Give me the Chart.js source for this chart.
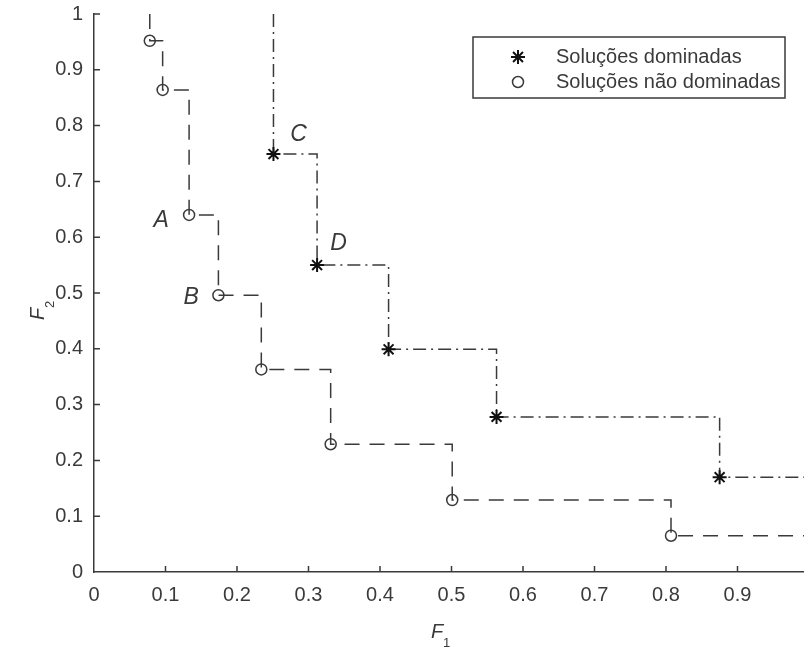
<!DOCTYPE html>
<html>
<head>
<meta charset="utf-8">
<script src="https://cdn.jsdelivr.net/npm/chart.js@4.4.0/dist/chart.umd.min.js"></script>
<style>
  html, body { margin: 0; padding: 0; background: #fff; overflow: hidden; }
  #chartBox { position: absolute; left: 0; top: 0; width: 820px; height: 649px; }
</style>
</head>
<body>
<div id="chartBox"><canvas id="paretoChart" width="820" height="649"></canvas></div>
<script>
// values (F1, F2)
const naoDominadasF1 = [0.078, 0.096, 0.133, 0.174, 0.234, 0.331, 0.501, 0.807];
const naoDominadasF2 = [0.952, 0.864, 0.640, 0.496, 0.363, 0.229, 0.129, 0.065];
const dominadasF1 = [0.251, 0.312, 0.412, 0.563, 0.875];
const dominadasF2 = [0.749, 0.550, 0.399, 0.278, 0.170];

const tickValues = [0, 0.1, 0.2, 0.3, 0.4, 0.5, 0.6, 0.7, 0.8, 0.9, 1];
const tickLabels = ['0', '0.1', '0.2', '0.3', '0.4', '0.5', '0.6', '0.7', '0.8', '0.9', '1'];

const pointLabels = ['A', 'B', 'C', 'D'];
const pointLabelF1 = [0.094, 0.136, 0.286, 0.342];
const pointLabelF2 = [0.630, 0.491, 0.784, 0.588];

const legendLabels = ['Soluções dominadas', 'Soluções não dominadas'];

const F1_MAX = 1;
const F2_MAX = 1;
const FONT = "'Liberation Sans', Arial, sans-serif";
const INK = '#3a3a3a';

const toPoints = (xs, ys) => xs.map((x, i) => ({ x: x, y: ys[i] }));

// staircase: comes down from the top, ends at the right border
const stairs = (xs, ys) => {
    const pts = [{ x: xs[0], y: F2_MAX }];
    xs.forEach((x, i) => pts.push({ x: x, y: ys[i] }));
    pts.push({ x: F1_MAX, y: ys[ys.length - 1] });
    return pts;
};

const setTicks = scale => {
    scale.ticks = tickValues.map(v => ({ value: v }));
};

const insideTicks = {
    id: 'insideTicks',
    afterDraw: chart => {
        const ctx = chart.ctx;
        const { x, y } = chart.scales;
        const area = chart.chartArea;
        ctx.save();
        ctx.strokeStyle = INK;
        ctx.lineWidth = 1.5;
        ctx.beginPath();
        tickValues.forEach(v => {
            if (v === 0) return;
            const px = x.getPixelForValue(v);
            ctx.moveTo(px, area.bottom);
            ctx.lineTo(px, area.bottom - 6);
            const py = y.getPixelForValue(v);
            ctx.moveTo(area.left, py);
            ctx.lineTo(area.left + 6, py);
        });
        ctx.stroke();
        ctx.restore();
    }
};

const axisTitles = {
    id: 'axisTitles',
    afterDraw: chart => {
        const ctx = chart.ctx;
        ctx.save();
        ctx.fillStyle = INK;
        ctx.textBaseline = 'alphabetic';
        ctx.textAlign = 'left';
        // F1
        ctx.font = `italic 20px ${FONT}`;
        ctx.fillText('F', 431, 638);
        ctx.font = `13px ${FONT}`;
        ctx.fillText('1', 443, 647);
        // F2
        ctx.translate(44, 320);
        ctx.rotate(-Math.PI / 2);
        ctx.font = `italic 20px ${FONT}`;
        ctx.fillText('F', 0, 0);
        ctx.font = `13px ${FONT}`;
        ctx.fillText('2', 12, 10);
        ctx.restore();
    }
};

const letterLabels = {
    id: 'letterLabels',
    afterDatasetsDraw: chart => {
        const ctx = chart.ctx;
        const { x, y } = chart.scales;
        ctx.save();
        ctx.fillStyle = INK;
        ctx.font = `italic 23px ${FONT}`;
        ctx.textAlign = 'center';
        ctx.textBaseline = 'middle';
        pointLabels.forEach((txt, i) => {
            ctx.fillText(txt, x.getPixelForValue(pointLabelF1[i]), y.getPixelForValue(pointLabelF2[i]));
        });
        ctx.restore();
    }
};

const boxLegend = {
    id: 'boxLegend',
    afterDraw: chart => {
        const ctx = chart.ctx;
        const left = 473, top = 37, right = 785, bottom = 98;
        ctx.save();
        ctx.fillStyle = '#fff';
        ctx.fillRect(left, top, right - left, bottom - top);
        ctx.strokeStyle = INK;
        ctx.lineWidth = 1.5;
        ctx.strokeRect(left, top, right - left, bottom - top);
        const markerSets = [chart.data.datasets[0], chart.data.datasets[1]];
        markerSets.forEach((ds, i) => {
            const cy = 57 + i * 25;
            ctx.strokeStyle = ds.borderColor;
            ctx.fillStyle = 'rgba(0,0,0,0)';
            ctx.lineWidth = ds.borderWidth;
            Chart.helpers.drawPoint(ctx, {
                pointStyle: ds.pointStyle,
                radius: ds.pointRadius,
                borderWidth: ds.borderWidth,
                rotation: 0
            }, 518, cy);
            ctx.fillStyle = INK;
            ctx.font = `20px ${FONT}`;
            ctx.textAlign = 'left';
            ctx.textBaseline = 'middle';
            ctx.fillText(legendLabels[i], 556, cy);
        });
        ctx.restore();
    }
};

const ctx = document.getElementById('paretoChart').getContext('2d');

const paretoChart = new Chart(ctx, {
    type: 'scatter',
    data: {
        datasets: [{
            label: legendLabels[0],
            data: toPoints(dominadasF1, dominadasF2),
            pointStyle: 'star',
            pointRadius: 7,
            borderColor: '#111',
            backgroundColor: 'rgba(0,0,0,0)',
            borderWidth: 2,
            showLine: false,
            order: 0
        }, {
            label: legendLabels[1],
            data: toPoints(naoDominadasF1, naoDominadasF2),
            pointStyle: 'circle',
            pointRadius: 5.5,
            borderColor: INK,
            backgroundColor: 'rgba(0,0,0,0)',
            borderWidth: 1.5,
            showLine: false,
            order: 0
        }, {
            type: 'line',
            data: stairs(dominadasF1, dominadasF2),
            stepped: 'before',
            borderColor: INK,
            borderWidth: 1.5,
            borderDash: [13, 5, 2, 5],
            pointRadius: 0,
            fill: false,
            order: 1
        }, {
            type: 'line',
            data: stairs(naoDominadasF1, naoDominadasF2),
            stepped: 'before',
            borderColor: INK,
            borderWidth: 1.5,
            borderDash: [15, 10],
            pointRadius: 0,
            fill: false,
            order: 1
        }]
    },
    options: {
        responsive: false,
        animation: false,
        layout: {
            padding: { left: 0, top: 14, right: 11, bottom: 0 }
        },
        plugins: {
            legend: { display: false },
            tooltip: { enabled: false }
        },
        scales: {
            x: {
                type: 'linear',
                min: 0,
                max: F1_MAX,
                afterBuildTicks: setTicks,
                afterFit: scale => {
                    scale.height = 77;
                    scale.paddingLeft = 0;
                    scale.paddingRight = 0;
                },
                grid: { drawOnChartArea: false, drawTicks: false },
                border: { display: true, color: INK, width: 1.5 },
                ticks: {
                    padding: 11,
                    color: INK,
                    font: { family: FONT, size: 20 },
                    maxRotation: 0,
                    callback: (value, index) => tickLabels[index]
                }
            },
            y: {
                type: 'linear',
                min: 0,
                max: F2_MAX,
                afterBuildTicks: setTicks,
                afterFit: scale => {
                    scale.width = 94;
                    scale.paddingTop = 0;
                    scale.paddingBottom = 0;
                },
                grid: { drawOnChartArea: false, drawTicks: false },
                border: { display: true, color: INK, width: 1.5 },
                ticks: {
                    padding: 11,
                    color: INK,
                    font: { family: FONT, size: 20 },
                    callback: (value, index) => tickLabels[index]
                }
            }
        }
    },
    plugins: [insideTicks, axisTitles, letterLabels, boxLegend]
});
</script>
</body>
</html>
